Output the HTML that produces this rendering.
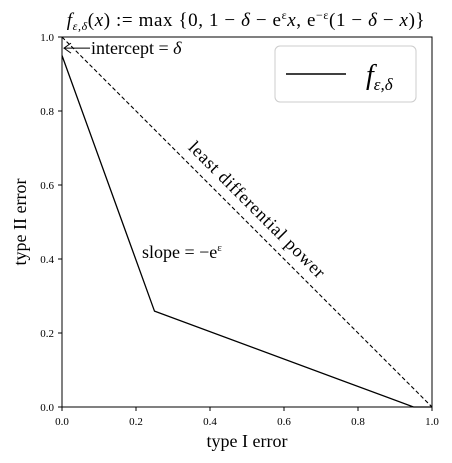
<!DOCTYPE html>
<html><head><meta charset="utf-8"><style>
body{margin:0;background:#fff;}
svg{display:block;font-family:"Liberation Serif","DejaVu Serif",serif;}
</style></head><body>
<svg id="chart" width="452" height="463" viewBox="0 0 452 463">
<text x="246" y="26" font-size="19" text-anchor="middle" letter-spacing="0.6"><tspan font-style="italic">f</tspan><tspan font-size="12" font-style="italic" dy="4">ε,δ</tspan><tspan dy="-4">(</tspan><tspan font-style="italic">x</tspan>) := max {0, 1 − <tspan font-style="italic">δ</tspan> − e<tspan font-size="12" dy="-7">ε</tspan><tspan dy="7" font-style="italic">x</tspan>, e<tspan font-size="12" dy="-7">−ε</tspan><tspan dy="7">(1 − </tspan><tspan font-style="italic">δ</tspan> − <tspan font-style="italic">x</tspan>)}</text>
<g id="axes"></g>
<g id="marks"></g>
<text x="91" y="54" font-size="18">intercept = <tspan font-style="italic">δ</tspan></text>
<text x="142" y="258" font-size="18">slope = −e<tspan font-size="11" dy="-7">ε</tspan></text>
<text transform="translate(253,214) rotate(45)" font-size="18" letter-spacing="0.8" text-anchor="middle">least differential power</text>
<g>
<rect x="275" y="46" width="141" height="56" rx="5" fill="#fff" stroke="#ccc"/>
<line x1="286" y1="74" x2="346" y2="74" stroke="#000" stroke-width="1.5"/>
<text x="366" y="84" font-size="28" font-style="italic">f<tspan font-size="17" dy="6">ε,δ</tspan></text>
</g>
<text x="247" y="447" font-size="18" text-anchor="middle">type I error</text>
<text transform="translate(26,222) rotate(-90)" font-size="18" text-anchor="middle">type II error</text>
</svg>
<script>
const xTicks=[0,0.2,0.4,0.6,0.8,1.0];
const yTicks=[0,0.2,0.4,0.6,0.8,1.0];
const curveX=[0,0.25,0.95,1.0];
const curveY=[0.95,0.259,0,0];
const diagX=[0,1];
const diagY=[1,0];
const X0=62,X1=432,Y0=407,Y1=37;
const sx=v=>X0+(X1-X0)*v, sy=v=>Y0-(Y0-Y1)*v;
const NS="http://www.w3.org/2000/svg";
const axes=document.getElementById('axes'),marks=document.getElementById('marks');
function mk(t,a,p){const e=document.createElementNS(NS,t);for(const k in a)e.setAttribute(k,a[k]);p.appendChild(e);return e;}
const frame=mk('rect',{x:X0,y:Y1,width:X1-X0,height:Y0-Y1,fill:'none',stroke:'#000','stroke-width':1},axes);


xTicks.forEach(v=>{
 mk('line',{x1:sx(v),x2:sx(v),y1:Y0,y2:Y0+4,stroke:'#000'},axes);
 const t=mk('text',{x:sx(v),y:Y0+18,'font-size':11,'text-anchor':'middle'},axes);
 t.textContent=v.toFixed(1);
 
 
});
yTicks.forEach(v=>{
 mk('line',{x1:X0-4,x2:X0,y1:sy(v),y2:sy(v),stroke:'#000'},axes);
 const t=mk('text',{x:X0-8,y:sy(v)+4,'font-size':11,'text-anchor':'end'},axes);
 t.textContent=v.toFixed(1);
 
 
});
const d=mk('polyline',{points:diagX.map((x,i)=>sx(x)+','+sy(diagY[i])).join(' '),fill:'none',stroke:'#000','stroke-width':1.1,'stroke-dasharray':'4,2.5'},marks);


const c=mk('polyline',{points:curveX.map((x,i)=>sx(x)+','+sy(curveY[i])).join(' '),fill:'none',stroke:'#000','stroke-width':1.3},marks);


const a=mk('path',{d:`M${sx(0)+28},${sy(0.97)} L${sx(0)+2},${sy(0.97)} M${sx(0)+9},${sy(0.97)-5} L${sx(0)+2},${sy(0.97)} L${sx(0)+9},${sy(0.97)+5}`,fill:'none',stroke:'#000','stroke-width':1},marks);


</script>
</body></html>
